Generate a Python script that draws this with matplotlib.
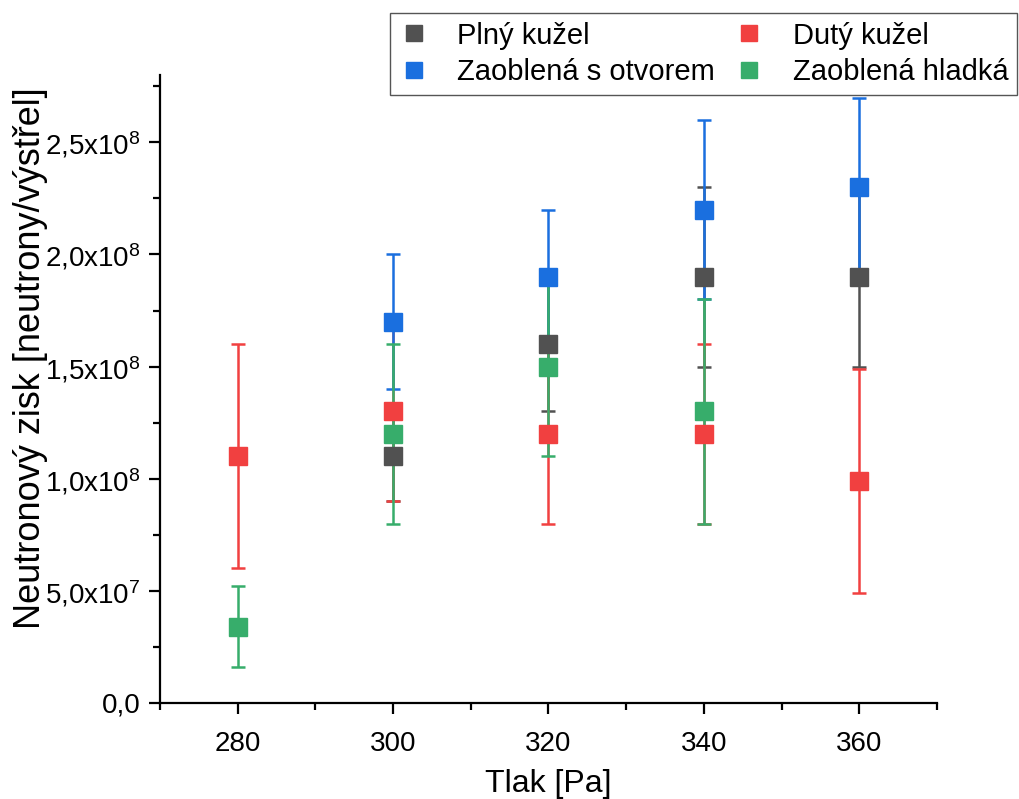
import numpy as np
import matplotlib
matplotlib.use("Agg")
import matplotlib.pyplot as plt
from matplotlib.ticker import MultipleLocator, FuncFormatter

plt.rcParams['font.family'] = ['Liberation Sans', 'DejaVu Sans']
plt.rcParams['mathtext.fontset'] = 'custom'
plt.rcParams['mathtext.rm'] = 'Liberation Sans'
plt.rcParams['mathtext.it'] = 'Liberation Sans'

# pressure [Pa], yield, error for each nozzle shape
plny_x = [300, 320, 340, 360]
plny_y = [1.1e8, 1.6e8, 1.9e8, 1.9e8]
plny_err = [0.2e8, 0.3e8, 0.4e8, 0.4e8]

duty_x = [280, 300, 320, 340, 360]
duty_y = [1.1e8, 1.3e8, 1.2e8, 1.2e8, 0.99e8]
duty_err = [0.5e8, 0.4e8, 0.4e8, 0.4e8, 0.5e8]

otvor_x = [300, 320, 340, 360]
otvor_y = [1.7e8, 1.9e8, 2.2e8, 2.3e8]
otvor_err = [0.3e8, 0.3e8, 0.4e8, 0.4e8]

hladka_x = [280, 300, 320, 340]
hladka_y = [3.4e7, 1.2e8, 1.5e8, 1.3e8]
hladka_err = [1.8e7, 0.4e8, 0.4e8, 0.5e8]

series = [
    ("Plný kužel", plny_x, plny_y, plny_err, "#515151"),
    ("Dutý kužel", duty_x, duty_y, duty_err, "#F14040"),
    ("Zaoblená s otvorem", otvor_x, otvor_y, otvor_err, "#1A6FDF"),
    ("Zaoblená hladká", hladka_x, hladka_y, hladka_err, "#37AD6B"),
]

fig = plt.figure(figsize=(10.19, 7.99), dpi=100)
ax = fig.add_axes([0.157, 0.1202, 0.7625, 0.7858])

handles = {}
for name, x, y, err, c in series:
    eb = ax.errorbar(x, y, yerr=err, fmt='s', ls='none', color=c, ecolor=c,
                     ms=13, elinewidth=1.8, capsize=4.8, capthick=1.8)
    handles[name] = eb[0]

ax.set_xlim(270, 370)
ax.set_ylim(0, 2.8e8)
ax.xaxis.set_major_locator(MultipleLocator(20))
ax.xaxis.set_minor_locator(MultipleLocator(10))
ax.yaxis.set_major_locator(MultipleLocator(5e7))
ax.yaxis.set_minor_locator(MultipleLocator(2.5e7))


def sci_fmt(v, pos):
    if v == 0:
        return "0,0"
    e = int(np.floor(np.log10(abs(v)) + 1e-9))
    m = ("%.1f" % (v / 10 ** e)).replace('.', ',')
    return m + "x10$^{%d}$" % e


ax.yaxis.set_major_formatter(FuncFormatter(sci_fmt))

for s in ['top', 'right']:
    ax.spines[s].set_visible(False)
for s in ['left', 'bottom']:
    ax.spines[s].set_linewidth(1.6)

ax.tick_params(which='major', length=8, width=1.6, labelsize=20, pad=6)
ax.tick_params(which='minor', length=5, width=1.6)
ax.tick_params(axis='x', pad=12)

ax.set_xlabel("Tlak [Pa]", fontsize=23)
ax.xaxis.set_label_coords(0.5, -0.105)
ax.set_ylabel("Neutronový zisk [neutrony/výstřel]", fontsize=26)
ax.yaxis.set_label_coords(-0.167, 0.549)
ax.yaxis.label.set_va('center')

order = ["Plný kužel", "Zaoblená s otvorem", "Dutý kužel", "Zaoblená hladká"]
leg = fig.legend([handles[n] for n in order], order, ncol=2,
                 loc='upper left', bbox_to_anchor=(0.383, 0.887, 0.615, 0.097),
                 mode='expand', fontsize=21, frameon=True, fancybox=False,
                 edgecolor='#555555', framealpha=1, borderaxespad=0,
                 handlelength=1.0, handletextpad=1.0, markerscale=0.85,
                 labelspacing=0.3, borderpad=0.3)
leg.get_frame().set_linewidth(1.0)

fig.savefig("out.png", dpi=100)
